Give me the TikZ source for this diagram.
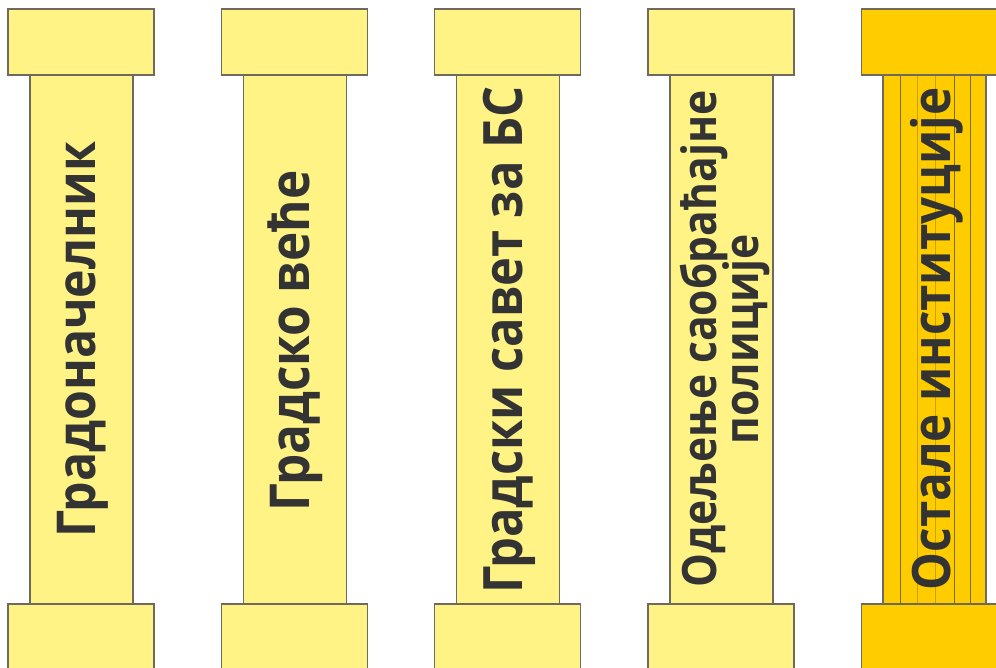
\documentclass[tikz,border=0pt]{standalone}
\usepackage{fontspec}
\setmainfont{Open Sans}
\newfontfamily\pillarfont[FakeStretch=0.9]{Open Sans Bold}
\definecolor{capyellow}{HTML}{FFF385}
\definecolor{goldfill}{HTML}{FFCC00}
\definecolor{edgegray}{HTML}{6E6A5E}
\definecolor{textgray}{HTML}{333333}
\definecolor{flutedark}{HTML}{7A6A20}
\definecolor{flutelight}{HTML}{C9A200}
\tikzset{
  capbox/.style={draw=edgegray, line width=1.2pt, fill=#1},
  shaftbox/.style={draw=edgegray, line width=1.2pt, fill=#1},
  pillartext/.style={rotate=90, anchor=base, text=textgray, font=\pillarfont\fontsize{#1}{#1}\selectfont, inner sep=0pt},
}
\begin{document}
\begin{tikzpicture}[x=1pt,y=-1pt]
\useasboundingbox (0,0) rectangle (996,668);
\clip (0,0) rectangle (996,668);
\fill[white] (0,0) rectangle (996,668);
% pillars 1-4
\foreach \i/\xx in {1/8,2/221.3,3/434.6,4/648}{
  \draw[shaftbox=capyellow] (\xx+22,75) rectangle (\xx+125,604);
  \draw[capbox=capyellow] (\xx,9) rectangle (\xx+146,75);
  \draw[capbox=capyellow] (\xx,604) rectangle (\xx+146,690);
}
% pillar 5
\draw[shaftbox=goldfill] (883,75) rectangle (986,604);
\foreach \lx/\lc in {900/flutedark,917/flutelight,935/flutelight,954/flutedark,970/flutedark}{
  \draw[\lc, line width=1pt] (\lx,75) -- (\lx,604);
}
\draw[capbox=goldfill] (861.3,9) rectangle (1010,75);
\draw[capbox=goldfill] (861.3,604) rectangle (1010,690);
% texts
\node[pillartext=53.6] (t1) at (95,339.5) {Градоначелник};
\node[pillartext=55] (t2) at (309,341) {Градско веће};
\node[pillartext=54.3] (t3) at (522,340) {Градски савет за БС};
\node[pillartext=47.3] (t4a) at (716,339) {Одељење саобраћајне};
\node[pillartext=47.3] (t4b) at (758,339) {полиције};
\node[pillartext=52.9] (t5) at (950,339) {Остале институције};
\end{tikzpicture}
\end{document}
